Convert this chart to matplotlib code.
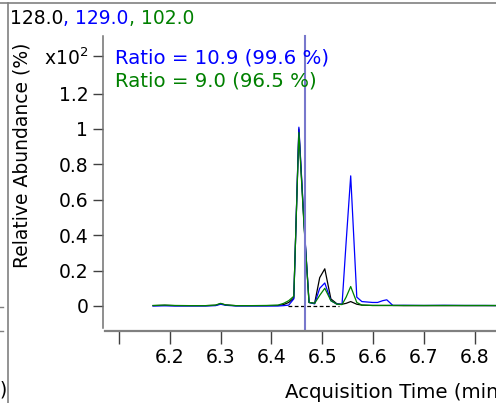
import matplotlib
matplotlib.use('Agg')
import matplotlib.pyplot as plt
from matplotlib.lines import Line2D

# chromatogram traces (x in min, y in x10^2 %)
times = [6.167, 6.19, 6.21, 6.24, 6.27, 6.29, 6.30, 6.31, 6.33, 6.36, 6.39,
         6.413, 6.424, 6.434, 6.444, 6.454, 6.464, 6.474, 6.485, 6.495, 6.505,
         6.517, 6.529, 6.539, 6.547, 6.556, 6.568, 6.578, 6.599, 6.609, 6.619,
         6.627, 6.639, 6.66, 6.70, 6.74, 6.78, 6.82, 6.86]
black_128 = [0.002, 0.004, 0.002, 0.002, 0.002, 0.004, 0.013, 0.006, 0.002, 0.002, 0.002,
             0.003, 0.008, 0.02, 0.045, 1.00, 0.47, 0.02, 0.015, 0.16, 0.21,
             0.04, 0.012, 0.01, 0.015, 0.025, 0.01, 0.005, 0.003, 0.003, 0.003,
             0.003, 0.003, 0.002, 0.002, 0.002, 0.002, 0.002, 0.002]
blue_129 = [0.0, 0.001, 0.0, 0.0, 0.0, 0.002, 0.010, 0.004, 0.0, 0.0, 0.0,
            0.0, 0.002, 0.005, 0.04, 1.01, 0.48, 0.02, 0.012, 0.10, 0.13,
            0.03, 0.01, 0.01, 0.36, 0.735, 0.05, 0.025, 0.02, 0.02, 0.03,
            0.035, 0.003, 0.004, 0.003, 0.004, 0.003, 0.003, 0.002]
green_102 = [0.003, 0.005, 0.003, 0.002, 0.002, 0.005, 0.015, 0.006, 0.002, 0.002, 0.003,
             0.005, 0.015, 0.03, 0.055, 0.98, 0.46, 0.02, 0.015, 0.06, 0.10,
             0.03, 0.01, 0.008, 0.05, 0.11, 0.02, 0.005, 0.003, 0.003, 0.003,
             0.003, 0.003, 0.003, 0.003, 0.003, 0.003, 0.003, 0.003]

baseline_x = [6.432, 6.532]
marker_time = 6.466

ytick_vals = [0, 0.2, 0.4, 0.6, 0.8, 1.0, 1.2, 1.41]
ytick_labels = ['0', '0.2', '0.4', '0.6', '0.8', '1', '1.2', 'x10$^2$']
xtick_vals = [6.1, 6.2, 6.3, 6.4, 6.5, 6.6, 6.7, 6.8]
xtick_labels = ['', '6.2', '6.3', '6.4', '6.5', '6.6', '6.7', '6.8']

plt.rcParams['font.family'] = ['DejaVu Sans']
FS = 13.5
FS_BIG = 14.2

W, H = 496, 403
fig = plt.figure(figsize=(W / 100, H / 100), dpi=100)

# axes box in pixel coords: left 105, right 496, top 36, bottom 328
ax = fig.add_axes([105 / W, (H - 328) / H, (W - 105) / W, (328 - 36) / H])
ax.set_xlim(6.0724, 6.842)
ax.set_ylim(-0.1243, 1.525)

ax.plot(times, black_128, color='black', lw=0.9)
ax.plot(times, blue_129, color='#0000ff', lw=0.9)
ax.plot(times, green_102, color='#008000', lw=0.9)
ax.plot(baseline_x, [0, 0], color='black', lw=0.9, ls=(0, (3, 2)))
ax.axvline(marker_time, ymin=-0.008, ymax=1, color='#7878cc', lw=1.5, clip_on=False)

for s in ['top', 'right']:
    ax.spines[s].set_visible(False)
ax.spines['left'].set_position(('outward', 1.5))
ax.spines['bottom'].set_position(('outward', 2.2))
ax.spines['left'].set_color('#707070')
ax.spines['bottom'].set_color('#808080')
ax.spines['left'].set_linewidth(1.1)
ax.spines['bottom'].set_linewidth(1.6)

ax.set_yticks(ytick_vals)
ax.set_yticklabels(ytick_labels, fontsize=FS)
ax.set_xticks(xtick_vals)
ax.set_xticklabels(xtick_labels, fontsize=FS)
ax.tick_params(axis='y', direction='out', length=7, width=1, color='#404040', pad=3.5)
ax.tick_params(axis='x', direction='out', length=9, width=1, color='#404040', pad=3.5)

ax.set_ylabel('Relative Abundance (%)', fontsize=FS)
ax.yaxis.set_label_coords(-73 / (W - 105), (328 - 155) / (328 - 36))
ax.set_xlabel('Acquisition Time (min)', fontsize=FS_BIG, ha='left')
ax.xaxis.set_label_coords((285 - 105) / (W - 105), -(392 - 328) / (328 - 36))
ax.xaxis.label.set_va('center')

ax.text(115 / W, 1 - 58 / H, 'Ratio = 10.9 (99.6 %)', transform=fig.transFigure,
        color='#0000ff', fontsize=FS_BIG, va='center', ha='left')
ax.text(115 / W, 1 - 81 / H, 'Ratio = 9.0 (96.5 %)', transform=fig.transFigure,
        color='#008000', fontsize=FS_BIG, va='center', ha='left')

# title in three colours
t1 = fig.text(10 / W, 1 - 18 / H, '128.0', color='black', fontsize=FS, va='center')
t2 = plt.annotate(', 129.0', xy=(1, 0), xycoords=t1, va='bottom', color='#0000ff', fontsize=FS)
t3 = plt.annotate(', 102.0', xy=(1, 0), xycoords=t2, va='bottom', color='#008000', fontsize=FS)

# window frame bits from the neighbouring panel
fig.add_artist(Line2D([0, 1], [1 - 3 / H, 1 - 3 / H], color='#808080', lw=1.2, transform=fig.transFigure))
fig.add_artist(Line2D([8 / W, 8 / W], [0, 1 - 3 / H], color='#808080', lw=1.2, transform=fig.transFigure))
for yy in [307, 331]:
    fig.add_artist(Line2D([0, 3 / W], [1 - yy / H, 1 - yy / H], color='#808080', lw=1, transform=fig.transFigure))
fig.text(0, 1 - 390 / H, ')', fontsize=FS, va='center', ha='left')

fig.savefig('out.png', dpi=100)
